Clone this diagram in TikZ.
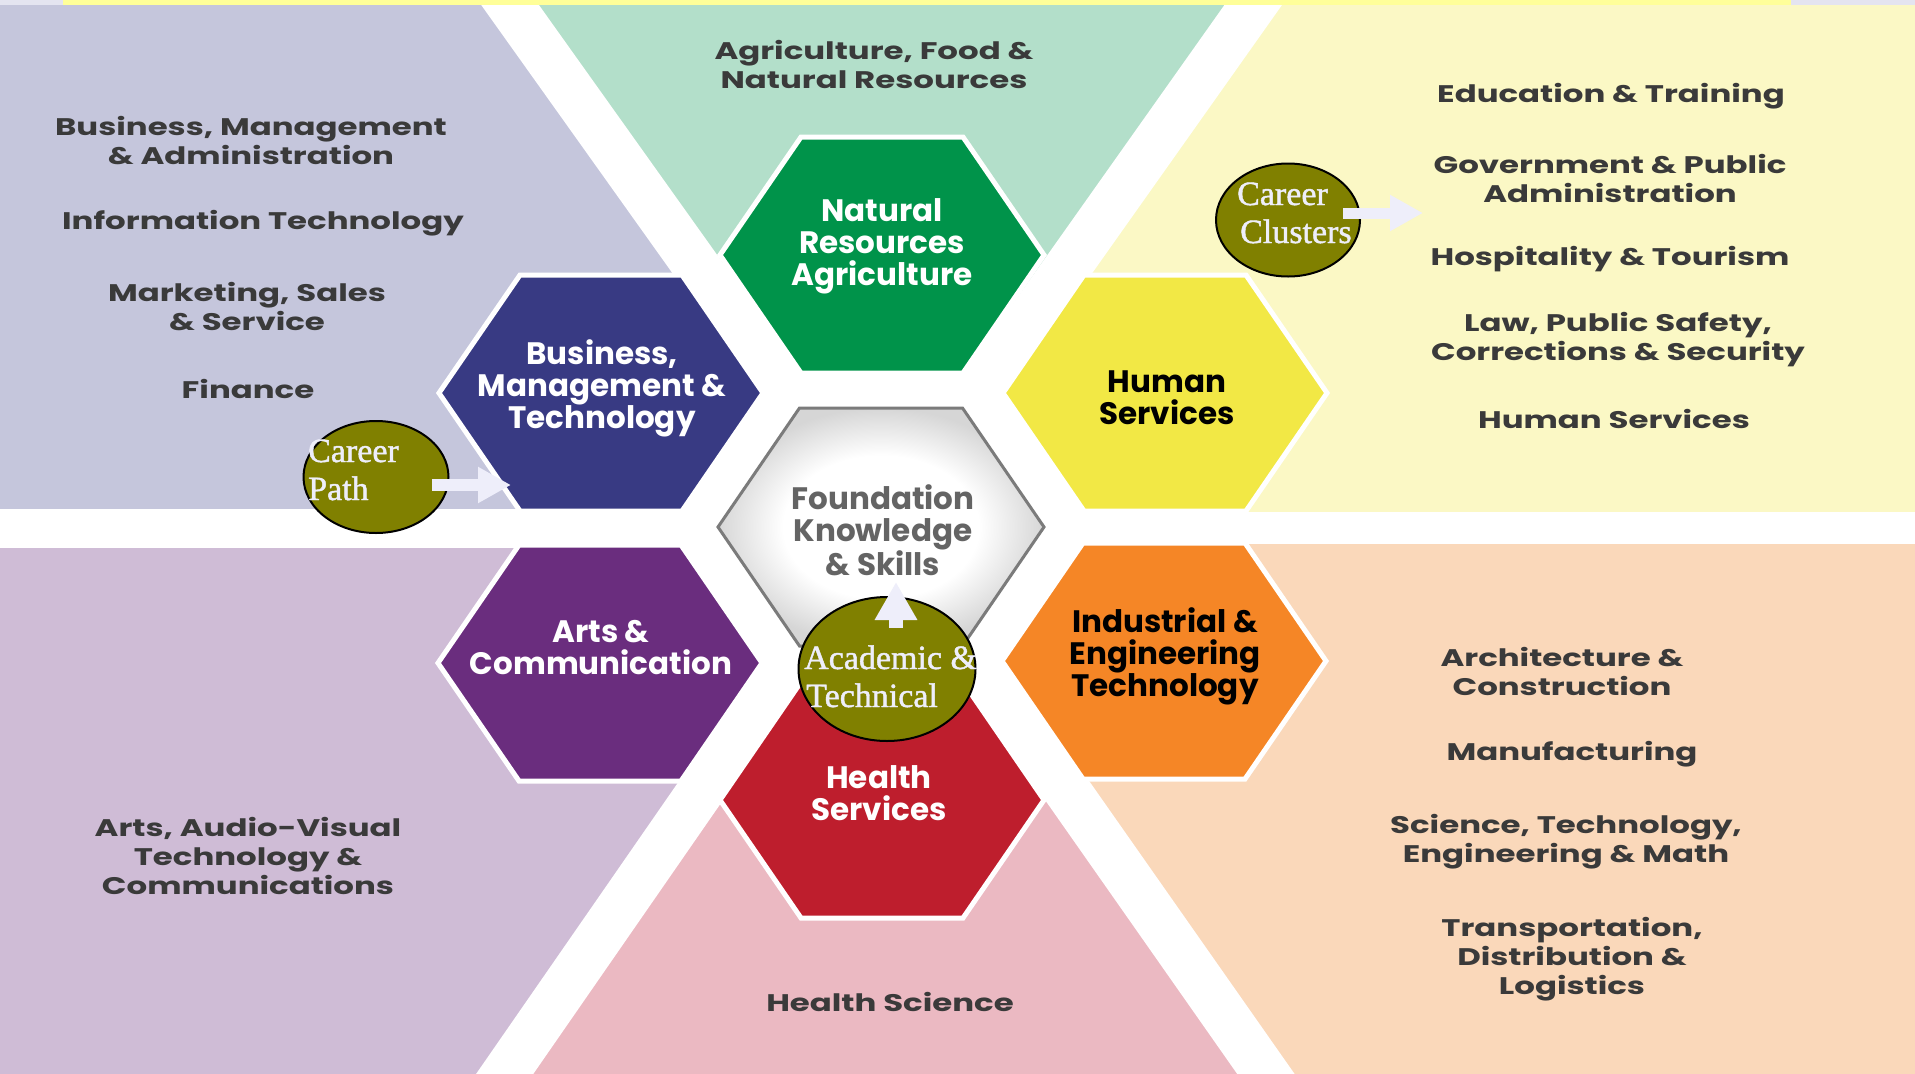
\documentclass[tikz,border=0pt]{standalone}
\usepackage{fontspec}
\setmainfont{Liberation Serif}
\newfontfamily\bgfont[FakeStretch=1.35]{Poppins}
\newfontfamily\hxfont{Poppins}
\newfontfamily\elfont[FakeBold=1.3]{Liberation Serif}
\usetikzlibrary{arrows.meta,shapes.geometric}
\definecolor{lav}{HTML}{C5C6DC}
\definecolor{mint}{HTML}{B3DFCA}
\definecolor{cream}{HTML}{FBF8C5}
\definecolor{mauve}{HTML}{CFBCD6}
\definecolor{pinkbg}{HTML}{EBB9C2}
\definecolor{peach}{HTML}{FAD8BA}
\definecolor{hgreen}{HTML}{00934A}
\definecolor{hnavy}{HTML}{383A83}
\definecolor{hyellow}{HTML}{F2E845}
\definecolor{hpurple}{HTML}{6A2D7E}
\definecolor{horange}{HTML}{F58626}
\definecolor{hred}{HTML}{BE1E2D}
\definecolor{olivefill}{HTML}{808000}
\definecolor{txtgray}{HTML}{3A3A3A}
\definecolor{fgray}{HTML}{646464}
\definecolor{arrowwhite}{HTML}{EEEEFA}
\definecolor{stripe}{HTML}{FFFF99}
\definecolor{stripeside}{HTML}{E4E4F0}
\pgfdeclareradialshading{foundshade}{\pgfpoint{0bp}{0bp}}{color(0bp)=(white); color(15bp)=(white); color(25bp)=(black!16); color(50bp)=(black!16)}
\newcommand{\hexpathx}[4]{({#1-#3},{#2}) -- ({#1-#3/2},{#2-#4}) -- ({#1+#3/2},{#2-#4}) -- ({#1+#3},{#2}) -- ({#1+#3/2},{#2+#4}) -- ({#1-#3/2},{#2+#4}) -- cycle}
\tikzset{
  bgtext/.style={font=\bgfont\bfseries\fontsize{24}{29}\selectfont, text=txtgray, align=center, inner sep=0pt},
  hxtext/.style={font=\hxfont\bfseries\fontsize{31}{32}\selectfont, align=center, inner sep=0pt},
  hexbox/.style={draw=white, line width=5pt, line join=miter},
  olivell/.style={ellipse, fill=olivefill, draw=black, line width=2pt, inner sep=0pt},
  eltext/.style={font=\elfont\fontsize{34}{38}\selectfont, text=arrowwhite, inner sep=0pt, anchor=base west},
  blockarrow/.style={draw=arrowwhite, -{Triangle[width=34pt,length=33pt]}, fill=arrowwhite}
}
\begin{document}
\begin{tikzpicture}[x=1pt,y=-1pt]
\useasboundingbox (0,0) rectangle (1915,1074);
\fill[white] (0,0) rectangle (1915,1074);
% background sectors
\fill[lav] (0,0) -- (510,0) -- (883,528) -- (0,528) -- cycle;
\fill[mint] (510,0) -- (1253,0) -- (883,528) -- cycle;
\fill[cream] (1253,0) -- (1915,0) -- (1915,528) -- (883,528) -- cycle;
\fill[mauve] (0,528) -- (883,528) -- (505,1074) -- (0,1074) -- cycle;
\fill[pinkbg] (505,1074) -- (883,528) -- (1266,1074) -- cycle;
\fill[peach] (883,528) -- (1915,528) -- (1915,1074) -- (1266,1074) -- cycle;
% white bands
\begin{scope}
\clip (0,5) rectangle (1915,1074);
\draw[white, line width=47pt] (473,-47) -- (883,528);
\draw[white, line width=47pt] (1290,-47) -- (883,528);
\draw[white, line width=47pt] (470,1124) -- (883,528);
\draw[white, line width=47pt] (1301,1124) -- (883,528);
\draw[white, line width=39pt] (-5,528) -- (883,528);
\draw[white, line width=32pt] (883,528) -- (1920,528);
\end{scope}
% white area around the centre
\fill[white] \hexpathx{881}{527}{220}{160};
% top stripe
\fill[stripeside] (0,0) rectangle (1915,5);
\fill[stripe] (63,0) rectangle (1791,5);
% coloured hexagons
\fill[hgreen, hexbox] \hexpathx{882}{255}{162}{118};
\fill[hnavy, hexbox] \hexpathx{601}{393}{162}{118};
\fill[hyellow, hexbox] \hexpathx{1165}{393}{162}{118};
\fill[hpurple, hexbox] \hexpathx{600}{663}{162}{118};
\fill[horange, hexbox] \hexpathx{1164}{661}{162}{118};
\fill[hred, hexbox] \hexpathx{882}{800}{162}{118};
% foundation hexagon
\shade[shading=foundshade] \hexpathx{881}{527}{163}{119};
\draw[fgray!85, line width=3pt, line join=miter] \hexpathx{881}{527}{163}{119};
% hexagon labels
\node[hxtext, text=white] (lnat) at (882,246) {Natural\\Resources\\Agriculture};
\node[hxtext, text=white] (lbus) at (602,388) {Business,\\Management \&\\Technology};
\node[hxtext, text=black] (lhum) at (1167,398) {Human\\Services};
\node[hxtext, text=fgray] (lfound) at (883,530) {Foundation\\Knowledge\\\& Skills};
\node[hxtext, text=white] (larts) at (601,648) {Arts \&\\Communication};
\node[hxtext, text=black] (lind) at (1165,656) {Industrial \&\\Engineering\\Technology};
\node[hxtext, text=white] (lhealth) at (879,793) {Health\\Services};
% background labels
\node[bgtext] (tbma) at (251,141) {Business, Management\\\& Administration};
\node[bgtext] (tit) at (263,223) {Information Technology};
\node[bgtext] (tmss) at (247,307) {Marketing, Sales\\\& Service};
\node[bgtext] (tfin) at (248,389) {Finance};
\node[bgtext] (tafnr) at (874,64) {Agriculture, Food \&\\Natural Resources};
\node[bgtext] (tedu) at (1611,96) {Education \& Training};
\node[bgtext] (tgov) at (1610,178) {Government \& Public\\Administration};
\node[bgtext] (thosp) at (1610,259) {Hospitality \& Tourism};
\node[bgtext] (tlaw) at (1618,340) {Law, Public Safety,\\Corrections \& Security};
\node[bgtext] (thum) at (1614,419) {Human Services};
\node[bgtext] (tarts) at (248,856) {Arts, Audio-Visual\\Technology \&\\Communications};
\node[bgtext] (thealth) at (890,1002) {Health Science};
\node[bgtext] (tarch) at (1562,671) {Architecture \&\\Construction};
\node[bgtext] (tmanu) at (1572,754) {Manufacturing};
\node[bgtext] (tstem) at (1566,842) {Science, Technology,\\Engineering \& Math};
\node[bgtext] (ttrans) at (1572,959) {Transportation,\\Distribution \&\\Logistics};
% ellipses
\node[olivell, minimum width=145pt, minimum height=112pt] (epath) at (376,477) {};
\node[olivell, minimum width=144pt, minimum height=113pt] (eclus) at (1288,220) {};
\node[olivell, minimum width=177pt, minimum height=144pt] (eacad) at (887,669) {};
\node[eltext] (epath1) at (308,462) {Career};
\node[eltext] (epath2) at (308,500) {Path};
\node[eltext] (eclus1) at (1237,205) {Career};
\node[eltext] (eclus2) at (1240,243) {Clusters};
\node[eltext] (eacad1) at (804,669) {Academic \&};
\node[eltext] (eacad2) at (806,707) {Technical};
% arrows
\coordinate (apS) at (432,485);
\coordinate (apE) at (511,485);
\coordinate (acS) at (1343,213);
\coordinate (acE) at (1423,213);
\coordinate (aaS) at (896,628);
\coordinate (aaE) at (896,582);
\draw[blockarrow, line width=12pt] (apS) -- (apE);
\draw[blockarrow, line width=11pt] (acS) -- (acE);
\draw[draw=arrowwhite, fill=arrowwhite, line width=14pt, -{Triangle[width=40pt,length=38pt]}] (aaS) -- (aaE);
\end{tikzpicture}
\end{document}
